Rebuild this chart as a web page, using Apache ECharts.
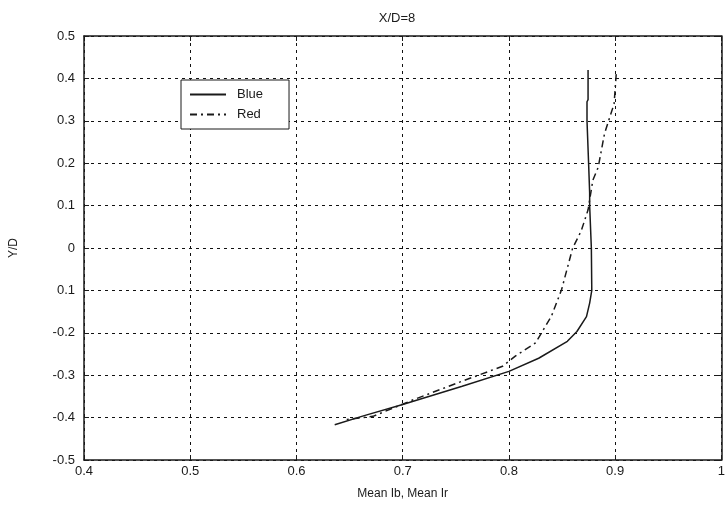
<!DOCTYPE html>
<html><head><meta charset="utf-8">
<script src="https://cdn.jsdelivr.net/npm/echarts@6/dist/echarts.min.js"></script>
<style>html,body{margin:0;padding:0;background:#fff}#c{width:728px;height:513px}</style>
</head><body><div id="c"></div>
<script>
var titleText = 'X/D=8';
var xName = 'Mean Ib, Mean Ir';
var yName = 'Y/D';
var xTicks = ['0.4','0.5','0.6','0.7','0.8','0.9','1'];
var yTickValues = [-0.5,-0.4,-0.3,-0.2,-0.1,0,0.1,0.2,0.3,0.4,0.5];
var yTickLabels = ['-0.5','-0.4','-0.3','-0.2','0.1','0','0.1','0.2','0.3','0.4','0.5'];
var blueX = [0.8745,0.8745,0.8735,0.8735,0.875,0.876,0.876,0.8776,0.878,0.876,0.873,0.864,0.855,0.828,0.800,0.756,0.700,0.663,0.636];
var blueY = [0.42,0.35,0.345,0.30,0.20,0.13,0.10,0.0,-0.10,-0.13,-0.162,-0.197,-0.22,-0.26,-0.291,-0.326,-0.369,-0.396,-0.417];
var redX = [0.901,0.899,0.890,0.884,0.879,0.8745,0.868,0.860,0.8496,0.840,0.825,0.806,0.794,0.756,0.710,0.672,0.645];
var redY = [0.41,0.34,0.27,0.19,0.16,0.09,0.04,0.0,-0.098,-0.161,-0.224,-0.255,-0.279,-0.314,-0.358,-0.397,-0.405];

function zip(a,b){return a.map(function(v,i){return [v,b[i]];});}
var ink = '#1a1a1a';
var font = 'Liberation Sans';
var chart = echarts.init(document.getElementById('c'), null, {renderer:'canvas'});
var gridLine = {show:true, lineStyle:{color:'#111', type:[3,4], width:1}};
chart.setOption({
  animation:false,
  backgroundColor:'#fff',
  title:{text:titleText, left:392, top:7, textAlign:'center',
    textStyle:{fontFamily:font, fontSize:13, fontWeight:'normal', color:ink}},
  grid:{left:82, right:2, top:36, bottom:53},
  legend:{orient:'vertical', left:181, top:80, itemWidth:36, itemHeight:10, itemGap:7,
    padding:[8,26,8,8], borderColor:ink, borderWidth:1, backgroundColor:'#fff',
    textStyle:{fontFamily:font, fontSize:13, color:ink, padding:[0,0,0,6]},
    data:['Blue','Red']},
  xAxis:[{type:'value', min:0.4, max:1, interval:0.1,
    name:xName, nameLocation:'middle', nameGap:28,
    nameTextStyle:{fontFamily:font, fontSize:12, color:ink},
    axisLine:{show:true, onZero:false, lineStyle:{color:ink, width:1.5}},
    axisTick:{show:true, inside:true, length:5, lineStyle:{color:ink}},
    axisLabel:{fontFamily:font, fontSize:13, color:ink, margin:5,
      formatter:function(v){var i=Math.round((v-0.4)/0.1);return xTicks[i];}},
    splitLine:gridLine},
   {type:'value', position:'top', min:0.4, max:1, interval:0.1,
    axisLine:{show:true, onZero:false, lineStyle:{color:ink, width:1.5}},
    axisTick:{show:true, inside:true, length:5, lineStyle:{color:ink}},
    axisLabel:{show:false}, splitLine:{show:false}}],
  yAxis:[{type:'value', min:-0.5, max:0.5, interval:0.1,
    name:yName, nameLocation:'middle', nameGap:64,
    nameTextStyle:{fontFamily:font, fontSize:12, color:ink},
    axisLine:{show:true, onZero:false, lineStyle:{color:ink, width:1.5}},
    axisTick:{show:true, inside:true, length:5, lineStyle:{color:ink}},
    axisLabel:{fontFamily:font, fontSize:13, color:ink, margin:9,
      formatter:function(v){
        for(var i=0;i<yTickValues.length;i++){if(Math.abs(yTickValues[i]-v)<1e-6)return yTickLabels[i];}
        return '';}},
    splitLine:gridLine},
   {type:'value', position:'right', min:-0.5, max:0.5, interval:0.1,
    axisLine:{show:true, onZero:false, lineStyle:{color:ink, width:1.5}},
    axisTick:{show:true, inside:true, length:7, lineStyle:{color:ink}},
    axisLabel:{show:false}, splitLine:{show:false}}],
  series:[
    {name:'Blue', type:'line', data:zip(blueX,blueY), showSymbol:false, symbol:'none',
     lineStyle:{color:ink, width:1.5, type:'solid'}, itemStyle:{color:'rgba(0,0,0,0)', borderWidth:0}},
    {name:'Red', type:'line', data:zip(redX,redY), showSymbol:false, symbol:'none',
     lineStyle:{color:ink, width:1.5, type:[7,4,2,4]}, itemStyle:{color:'rgba(0,0,0,0)', borderWidth:0}}
  ]
});
</script></body></html>
